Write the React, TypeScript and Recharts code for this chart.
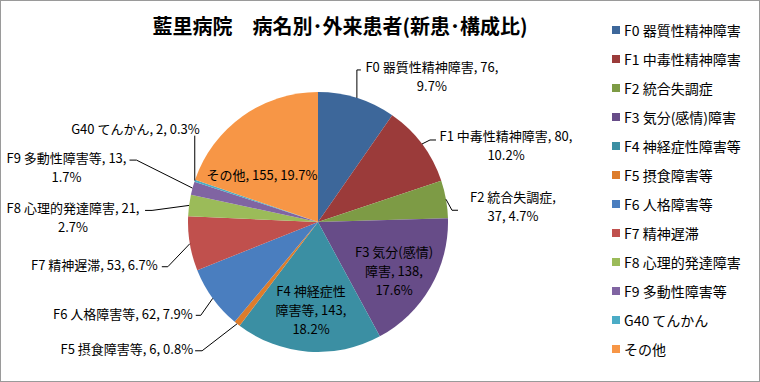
import { Cell, Legend, Pie, PieChart } from "recharts";

const categories = [
	"F0 器質性精神障害",
	"F1 中毒性精神障害",
	"F2 統合失調症",
	"F3 気分(感情)障害",
	"F4 神経症性障害等",
	"F5 摂食障害等",
	"F6 人格障害等",
	"F7 精神遅滞",
	"F8 心理的発達障害",
	"F9 多動性障害等",
	"G40 てんかん",
	"その他",
];
const patients = [76, 80, 37, 138, 143, 6, 62, 53, 21, 13, 2, 155];
const colors = [
	"#3D679A", "#9B3B3A", "#7D9B45", "#674C88", "#3B8FA3", "#DD7C2B",
	"#4A7EBF", "#C0504D", "#9BBB59", "#8064A2", "#4BACC6", "#F79646",
];
const title = "藍里病院　病名別･外来患者(新患･構成比)";

const data = categories.map((name, i) => ({ name, value: patients[i] }));

const FONT = "'Noto Sans CJK JP', 'Noto Sans', sans-serif";
const RAD = Math.PI / 180;
const LH = 19;
const FS = 13;

// where each data label sits: outside ones are offset from the slice's edge midpoint,
// inside ones from the pie centre
type Wrap = "none" | "name" | "value" | number;
type LabelPos = { wrap: Wrap; tx: number; ty: number; inside?: boolean; anchor?: string; path?: number[][] };
const labelLayout: LabelPos[] = [
	{ wrap: "value", tx: 75, ty: -31, anchor: "middle", path: [[0, -28], [4, -28]] },
	{ wrap: "value", tx: 84, ty: -8, anchor: "middle", path: [[8, -4], [14, -4]] },
	{ wrap: "name", tx: 67, ty: -3, anchor: "middle", path: [[6, 11], [12, 11]] },
	{ wrap: 9, inside: true, tx: 76, ty: 48 },
	{ wrap: 7, inside: true, tx: -7, ty: 87 },
	{ wrap: "none", tx: -44, ty: 25, anchor: "end", path: [[-35, 27], [-42, 27]] },
	{ wrap: "none", tx: -20, ty: 15, anchor: "end", path: [[-12, 17], [-17, 17]] },
	{ wrap: "none", tx: -32, ty: 21, anchor: "end", path: [[-22, 23], [-28, 23]] },
	{ wrap: "value", tx: -116, ty: 2, anchor: "middle", path: [[-37, 5], [-44, 5]] },
	{ wrap: "value", tx: -126, ty: -31, anchor: "middle", path: [[-56, -28], [-63, -28]] },
	{ wrap: "none", tx: 5, ty: -52, anchor: "end", path: [[0, -45]] },
	{ wrap: "none", inside: true, tx: -56, ty: -48 },
];

const labelLines = (name: string, value: number, pct: string, wrap: Wrap): string[] => {
	if (wrap === "value") return [`${name}, ${value},`, `${pct}%`];
	if (wrap === "name") return [`${name},`, `${value}, ${pct}%`];
	if (typeof wrap === "number") return [name.slice(0, wrap), `${name.slice(wrap)}, ${value},`, `${pct}%`];
	return [`${name}, ${value}, ${pct}%`];
};

const renderLabel = (props: any) => {
	const { cx, cy, midAngle, outerRadius, percent, index, value, name } = props;
	const pos = labelLayout[index];
	const pct = (percent * 100).toFixed(1);
	const lines = labelLines(name, value, pct, pos.wrap);
	const ex = cx + outerRadius * Math.cos(-midAngle * RAD);
	const ey = cy + outerRadius * Math.sin(-midAngle * RAD);

	if (pos.inside) {
		const x = cx + pos.tx;
		const y0 = cy + pos.ty - ((lines.length - 1) * LH) / 2;
		return (
			<g key={`lbl-${index}`}>
				{lines.map((t, i) => (
					<text key={i} x={x} y={y0 + i * LH} textAnchor="middle" dominantBaseline="central"
						fontSize={FS} fontFamily={FONT} fill="#000">{t}</text>
				))}
			</g>
		);
	}

	const pts = [[ex, ey], ...(pos.path || []).map(([dx, dy]) => [ex + dx, ey + dy])];
	return (
		<g key={`lbl-${index}`}>
			<polyline points={pts.map((p) => p.join(",")).join(" ")} fill="none" stroke="#000" strokeWidth={1} />
			{lines.map((t, i) => (
				<text key={i} x={ex + pos.tx} y={ey + pos.ty + i * LH} textAnchor={pos.anchor} dominantBaseline="central"
					fontSize={FS} fontFamily={FONT} fill="#000">{t}</text>
			))}
		</g>
	);
};

const renderLegend = () => (
	<div style={{ fontFamily: FONT, fontSize: 14, color: "#000" }}>
		{categories.map((c, i) => (
			<div key={c} style={{ height: 29, display: "flex", alignItems: "center", whiteSpace: "nowrap" }}>
				<span style={{ display: "inline-block", width: 8, height: 8, background: colors[i], marginRight: 4 }} />
				{c}
			</div>
		))}
	</div>
);

const App = () => {
	return (
		<div style={{ position: "absolute", left: 0, top: 0, width: 760, height: 382, boxSizing: "border-box",
			border: "1px solid #9a9a9a", background: "#fff" }}>
			<div style={{ position: "absolute", left: 0, top: 13, width: 678, textAlign: "center", fontFamily: FONT,
				fontSize: 20, lineHeight: "24px", fontWeight: "bold", color: "#000" }}>
				{title}
			</div>
			<PieChart width={758} height={380} margin={{ top: 0, right: 0, bottom: 0, left: 0 }}>
				<Pie
					data={data}
					dataKey="value"
					nameKey="name"
					cx={317}
					cy={221}
					outerRadius={130}
					startAngle={90}
					endAngle={-270}
					stroke="none"
					label={renderLabel}
					labelLine={false}
					isAnimationActive={false}
				>
					{data.map((d, i) => (
						<Cell key={d.name} fill={colors[i]} />
					))}
				</Pie>
				<Legend layout="vertical" align="right" verticalAlign="top" content={renderLegend}
					wrapperStyle={{ left: 611, top: 14, width: 145 }} />
			</PieChart>
		</div>
	);
};

export default App;
